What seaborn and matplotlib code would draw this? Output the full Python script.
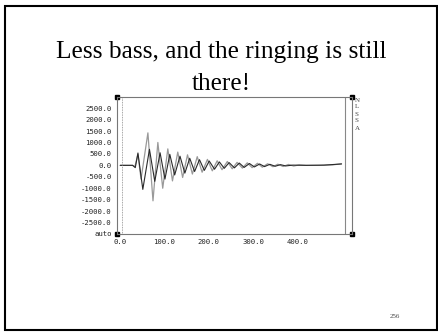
import matplotlib
matplotlib.use("Agg")
import matplotlib.pyplot as plt
import matplotlib.patches as mpatches
import seaborn as sns
import pandas as pd

# ---- data ----
title_line1 = "Less bass, and the ringing is still"
title_line2 = "there!"
page_number = "256"
side_letters = ["N", "L", "S", "S", "A"]

x_ticks = [0, 100, 200, 300, 400]
x_tick_labels = ["0.0", "100.0", "200.0", "300.0", "400.0"]
y_ticks = [-3000, -2500, -2000, -1500, -1000, -500, 0, 500, 1000, 1500, 2000, 2500]
y_tick_labels = ["auto", "-2500.0", "-2000.0", "-1500.0", "-1000.0", "-500.0",
                 "0.0", "500.0", "1000.0", "1500.0", "2000.0", "2500.0"]

grey_x = [0, 28, 33, 40, 47, 62.5, 74, 85, 96, 107.5, 118, 130, 141, 152, 163, 174, 185,
          197, 208, 219, 230, 242, 253, 264, 276, 287, 298, 310, 321, 333, 345, 356, 368,
          380, 392, 404, 420, 450, 480, 500]
grey_y = [0, 0, -60, 480, -600, 1420, -1550, 1000, -1000, 720, -680, 580, -530, 460, -380,
          380, -300, 260, -240, 200, -190, 170, -150, 130, -120, 110, -100, 90, -80, 70,
          -60, 50, -50, 40, -30, 20, 0, 0, 20, 70]

dark_x = [0, 28, 34, 40, 51, 66, 78, 90, 101, 112, 123, 135, 146, 157, 168, 179, 190, 201,
          213, 224, 235, 246, 258, 269, 280, 292, 303, 315, 326, 338, 350, 362, 374, 390,
          420, 460, 500]
dark_y = [0, 0, -100, 540, -1050, 700, -700, 550, -600, 480, -420, 400, -340, 310, -270,
          250, -220, 190, -170, 150, -130, 120, -110, 100, -90, 80, -70, 60, -55, 45, -40,
          30, -25, 10, 0, 10, 60]

grey_df = pd.DataFrame({"x": grey_x, "y": grey_y})
dark_df = pd.DataFrame({"x": dark_x, "y": dark_y})

sns.set_style("white")
plt.rcParams["font.family"] = ["DejaVu Sans"]

W, H = 439, 332
fig = plt.figure(figsize=(W / 100, H / 100), dpi=100)
fig.patch.set_facecolor("white")

# slide border
fig.patches.append(mpatches.Rectangle((5 / W, 1 - 330 / H), 432 / W, 324 / H,
                                      transform=fig.transFigure, fill=False,
                                      edgecolor="black", linewidth=1.5))

# title
fig.text(221 / W, 1 - 58 / H, title_line1, ha="center", va="baseline",
         fontsize=18.3, family="Liberation Serif", color="black")
fig.text(221 / W, 1 - 90 / H, title_line2, ha="center", va="baseline",
         fontsize=18.3, family="Liberation Serif", color="black")
fig.text(395 / W, 1 - 318 / H, page_number, ha="center", va="baseline",
         fontsize=5, family="Liberation Serif", color="#444444")

left, right, top, bottom = 116.7, 351.7, 96.7, 234
ax = fig.add_axes([left / W, 1 - bottom / H, (right - left) / W, (bottom - top) / H])

sns.lineplot(data=grey_df, x="x", y="y", ax=ax, color="#999999", linewidth=0.9)
sns.lineplot(data=dark_df, x="x", y="y", ax=ax, color="#2a2a2a", linewidth=0.8)

ax.axvline(5, color="#888888", linestyle=(0, (1, 1)), linewidth=0.6)
ax.axvline(508, color="#888888", linewidth=0.8)

ax.set_xlim(-8, 523)
ax.set_ylim(-3000, 3000)
ax.set_xlabel("")
ax.set_ylabel("")
ax.set_xticks(x_ticks)
ax.set_xticklabels(x_tick_labels)
ax.set_yticks(y_ticks)
ax.set_yticklabels(y_tick_labels)
ax.tick_params(axis="both", which="both", direction="out", length=2.5, width=0.5,
               colors="#555555", labelsize=5.2, pad=1.2)
for lab in ax.get_xticklabels() + ax.get_yticklabels():
    lab.set_family("DejaVu Sans Mono")
    lab.set_color("#222222")
for s in ax.spines.values():
    s.set_color("#777777")
    s.set_linewidth(0.8)

# corner markers
for cx, cy in [(0, 0), (0, 1), (1, 0), (1, 1)]:
    ax.plot([cx], [cy], marker="s", markersize=3, color="black",
            transform=ax.transAxes, clip_on=False)

# side letters
for i, letter in enumerate(side_letters):
    fig.text(355 / W, 1 - (100 + i * 7) / H, letter, ha="left", va="center",
             fontsize=5, family="Liberation Serif", color="#444444")

fig.savefig("out.png", dpi=100)
